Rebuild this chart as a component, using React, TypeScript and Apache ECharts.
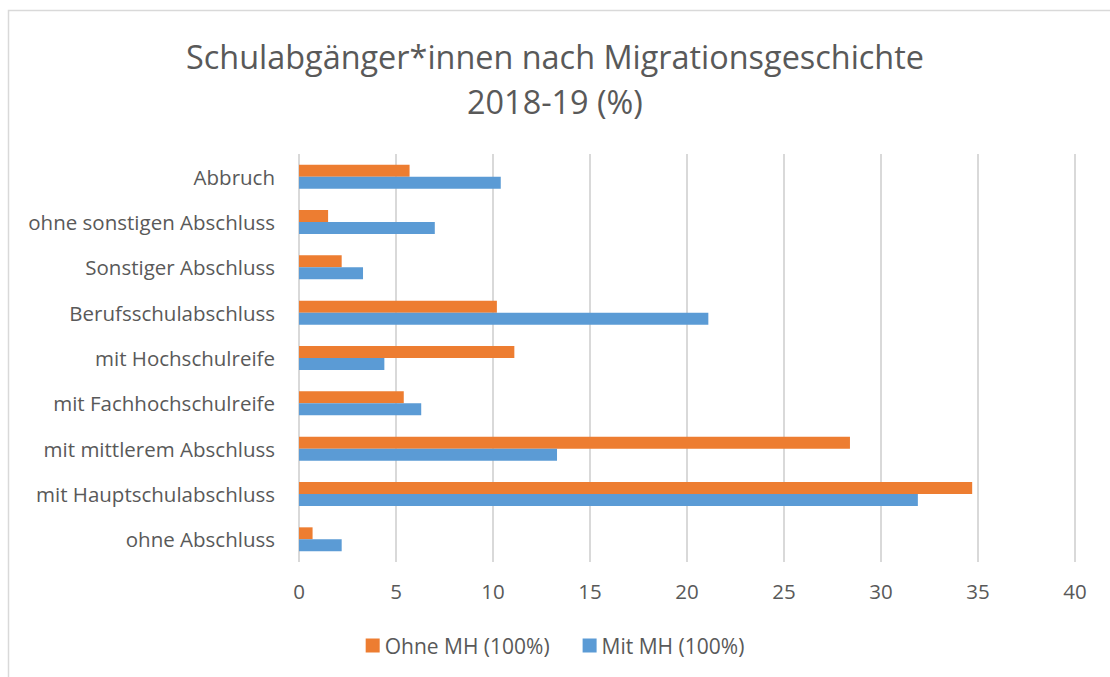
import React, { useEffect, useRef } from "react";
import * as echarts from "echarts";

const categories = [
  "Abbruch",
  "ohne sonstigen Abschluss",
  "Sonstiger Abschluss",
  "Berufsschulabschluss",
  "mit Hochschulreife",
  "mit Fachhochschulreife",
  "mit mittlerem Abschluss",
  "mit Hauptschulabschluss",
  "ohne Abschluss",
];
const ohneMH = [5.7, 1.5, 2.2, 10.2, 11.1, 5.4, 28.4, 34.7, 0.7];
const mitMH = [10.4, 7.0, 3.3, 21.1, 4.4, 6.3, 13.3, 31.9, 2.2];
const seriesNames = ["Ohne MH (100%)", "Mit MH (100%)"];
const titleLines = ["Schulabgänger*innen nach Migrationsgeschichte", "2018-19 (%)"];

const FONT = "'Open Sans', sans-serif";
const GRAY = "#595959";

export default function App() {
  const ref = useRef<HTMLDivElement>(null);
  useEffect(() => {
    if (!ref.current) return;
    const chart = echarts.init(ref.current, undefined, { renderer: "svg" });
    chart.setOption({
      animation: false,
      backgroundColor: "#ffffff",
      textStyle: { fontFamily: FONT },
      title: {
        text: titleLines.join("\n"),
        left: "center",
        top: 28,
        textStyle: {
          fontFamily: FONT,
          fontSize: 32.4,
          fontWeight: "normal",
          color: GRAY,
          lineHeight: 45,
        },
      },
      graphic: [
        {
          type: "rect",
          shape: { x: 8.5, y: 10.5, width: 1300, height: 900 },
          style: { fill: "none", stroke: "#d9d9d9", lineWidth: 1.5 },
          silent: true,
        },
      ],
      legend: {
        bottom: 16,
        left: "center",
        itemWidth: 14,
        itemHeight: 14,
        itemGap: 33,
        icon: "rect",
        textStyle: { fontFamily: FONT, fontSize: 21, color: GRAY },
        data: seriesNames,
      },
      grid: { left: 299, right: 35, top: 154, bottom: 115, containLabel: false },
      xAxis: {
        type: "value",
        min: 0,
        max: 40,
        interval: 5,
        axisLine: { show: false },
        axisTick: { show: false },
        axisLabel: { fontFamily: FONT, fontSize: 20.5, color: GRAY, margin: 18 },
        splitLine: { lineStyle: { color: "#d9d9d9", width: 2 } },
      },
      yAxis: {
        type: "category",
        inverse: true,
        data: categories,
        axisLine: { show: false },
        axisTick: { show: false },
        axisLabel: { fontFamily: FONT, fontSize: 20.5, color: GRAY, margin: 24 },
      },
      series: [
        {
          name: seriesNames[0],
          type: "bar",
          data: ohneMH,
          barWidth: 12,
          barGap: "0%",
          itemStyle: { color: "#ed7d31" },
        },
        {
          name: seriesNames[1],
          type: "bar",
          data: mitMH,
          barWidth: 12,
          barGap: "0%",
          itemStyle: { color: "#5b9bd5" },
        },
      ],
    });
    return () => chart.dispose();
  }, []);
  return (
    <div
      ref={ref}
      style={{ position: "absolute", left: 0, top: 0, width: 1110, height: 677 }}
    />
  );
}
